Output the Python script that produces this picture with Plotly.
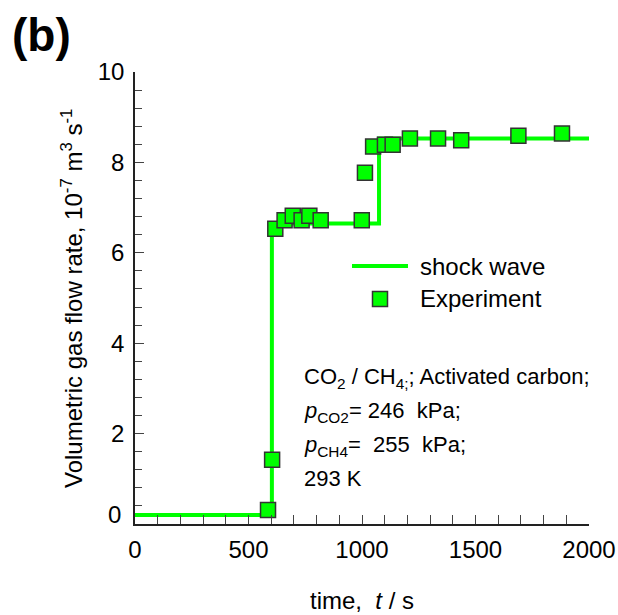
import plotly.graph_objects as go

# Experimental volumetric gas flow rate (10^-7 m^3/s) versus time (s)
exp_time = [586, 604, 618, 659, 695, 734, 768, 818, 999, 1013, 1049,
            1101, 1135, 1211, 1335, 1437, 1689, 1881]
exp_flow = [0.31, 1.42, 6.53, 6.72, 6.82, 6.72, 6.82, 6.72, 6.72, 7.77, 8.35,
            8.39, 8.39, 8.53, 8.53, 8.49, 8.59, 8.64]

# Shock-wave model: step profile
model_time = [0, 603, 603, 1075, 1075, 2000]
model_flow = [0.2, 0.2, 6.65, 6.65, 8.53, 8.53]

x_ticks = [0, 500, 1000, 1500, 2000]
y_ticks = [2, 4, 6, 8, 10]

FONT = "Liberation Sans, Arial, sans-serif"
GREEN = "#00ff00"

# plot-area geometry in pixels, used to place the hand-built legend and notes
L, R, T, B = 135, 589, 72, 524


def px(x):
    return (x - L) / (R - L)


def py(y):
    return (B - y) / (B - T)


fig = go.Figure()
fig.add_trace(go.Scatter(
    x=model_time, y=model_flow, mode="lines", name="shock wave",
    line=dict(color=GREEN, width=4), showlegend=False, cliponaxis=False))
fig.add_trace(go.Scatter(
    x=exp_time, y=exp_flow, mode="markers", name="Experiment",
    marker=dict(symbol="square", size=15, color=GREEN,
                line=dict(color="#333333", width=1.5)),
    showlegend=False, cliponaxis=False))

axis_common = dict(
    showline=True, linecolor="#222", linewidth=1.5, mirror=False,
    ticks="inside", tickcolor="#444", tickwidth=1.2, ticklen=9,
    showgrid=False, zeroline=False, automargin=False,
    tickfont=dict(family=FONT, size=24, color="black"),
)

fig.update_xaxes(range=[0, 2000], tickvals=x_ticks,
                 minor=dict(dtick=100, ticks="inside", ticklen=9,
                            tickcolor="#444", tickwidth=1.2, showgrid=False),
                 ticklabelstandoff=3, **axis_common)
fig.update_yaxes(range=[0, 10], tickvals=y_ticks,
                 minor=dict(dtick=0.4, ticks="inside", ticklen=7,
                            tickcolor="#444", tickwidth=1.2, showgrid=False),
                 ticklabelstandoff=4, **axis_common)

annotations = [
    # "0" label on the y axis, set on the baseline level
    dict(text="0", x=0, y=model_flow[0], xref="paper", yref="y",
         xanchor="right", yanchor="middle", xshift=-12, showarrow=False,
         font=dict(family=FONT, size=24, color="black")),
    dict(text="(b)", x=px(10), y=py(35), xref="paper", yref="paper",
         xanchor="left", yanchor="middle", showarrow=False,
         font=dict(family=FONT, size=46, color="black", weight="bold")),
    dict(text="time,&nbsp; <i>t</i> / s", x=0.5, y=py(600), xref="paper",
         yref="paper", xanchor="center", yanchor="middle", showarrow=False,
         font=dict(family=FONT, size=24, color="black")),
    dict(text="Volumetric gas flow rate, 10<sup>-7</sup> m<sup>3</sup> s<sup>-1</sup>",
         x=px(72), y=py(299), xref="paper", yref="paper", textangle=-90,
         xanchor="center", yanchor="middle", showarrow=False,
         font=dict(family=FONT, size=24, color="black")),
    # legend labels
    dict(text="shock wave", x=px(418), y=py(266), xref="paper", yref="paper",
         xanchor="left", yanchor="middle", showarrow=False,
         font=dict(family=FONT, size=24, color="black")),
    dict(text="Experiment", x=px(418), y=py(298), xref="paper", yref="paper",
         xanchor="left", yanchor="middle", showarrow=False,
         font=dict(family=FONT, size=24, color="black")),
]

note_lines = [
    ("CO<sub>2</sub> / CH<sub>4;</sub>; Activated carbon;", 378),
    ("<i>p</i><sub>CO2</sub>= 246&nbsp; kPa;", 412),
    ("<i>p</i><sub>CH4</sub>=&nbsp; 255&nbsp; kPa;", 446),
    ("293 K", 478),
]
for txt, ypix in note_lines:
    annotations.append(dict(
        text=txt, x=px(302), y=py(ypix), xref="paper", yref="paper",
        xanchor="left", yanchor="middle", showarrow=False,
        font=dict(family=FONT, size=22, color="black")))

shapes = [
    dict(type="line", xref="paper", yref="paper",
         x0=px(352), x1=px(408), y0=py(266), y1=py(266),
         line=dict(color=GREEN, width=4)),
    dict(type="rect", xref="paper", yref="paper",
         x0=px(372.5), x1=px(387.5), y0=py(306.5), y1=py(291.5),
         fillcolor=GREEN, line=dict(color="#333333", width=1.5)),
]

fig.update_layout(
    width=618, height=615,
    margin=dict(l=L, r=618 - R, t=T, b=615 - B, autoexpand=False),
    paper_bgcolor="white", plot_bgcolor="white",
    annotations=annotations, shapes=shapes,
    font=dict(family=FONT, color="black"),
)

fig.write_html("out.html")
